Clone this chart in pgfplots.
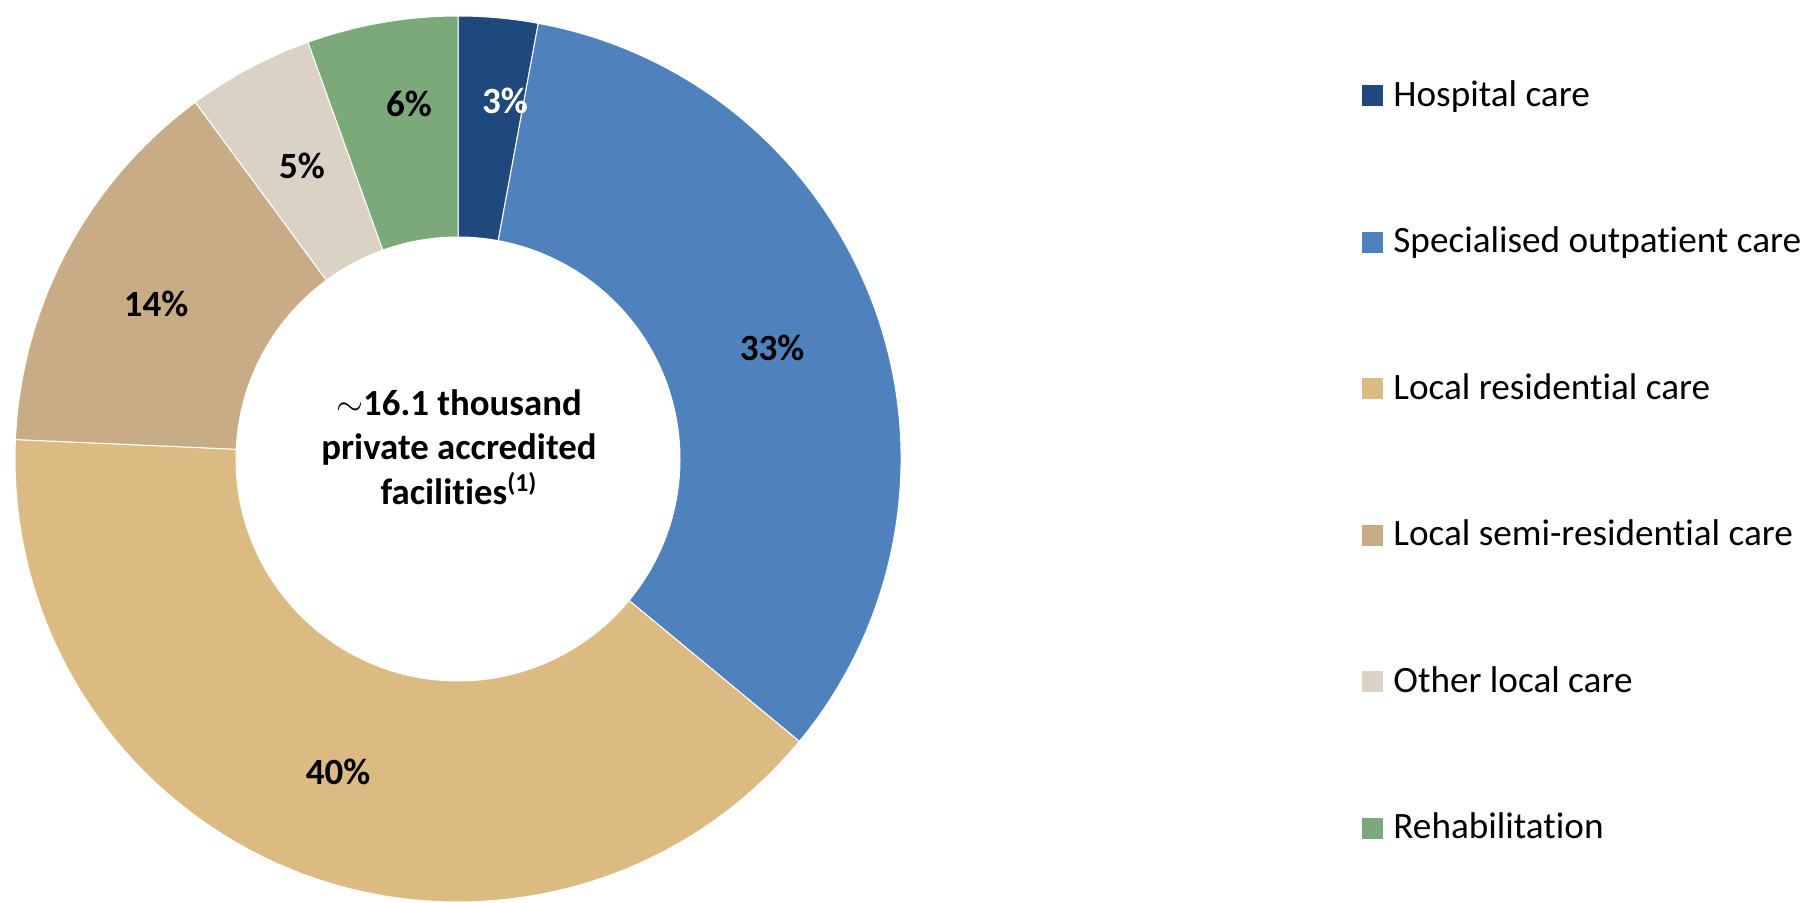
\documentclass[border=0pt]{standalone}
\usepackage{pgfplots}
\pgfplotsset{compat=1.18}
\usepackage{pgfplotstable}
\usepackage{fontspec}
\setmainfont{Carlito}[Ligatures=NoCommon]

\definecolor{c0}{RGB}{31,73,125}
\definecolor{c1}{RGB}{79,129,189}
\definecolor{c2}{RGB}{220,187,130}
\definecolor{c3}{RGB}{200,172,133}
\definecolor{c4}{RGB}{218,210,197}
\definecolor{c5}{RGB}{123,169,121}
\colorlet{t0}{white}
\colorlet{t1}{black}
\colorlet{t2}{black}
\colorlet{t3}{black}
\colorlet{t4}{black}
\colorlet{t5}{black}

% share (%), shown label, label position (px, y up), legend name
\pgfplotstableread[col sep=semicolon]{
value;label;lx;ly;name
2.9;3;505;801;Hospital care
33.1;33;772;554;Specialised outpatient care
39.7;40;338;130;Local residential care
14.2;14;156;598;Local semi-residential care
4.6;5;302;736;Other local care
5.5;6;409;798;Rehabilitation
}\datatable

\gdef\cum{0}
\foreach \i in {0,...,5}{%
  \pgfplotstablegetelem{\i}{value}\of\datatable
  \pgfmathsetmacro\sa{90-3.6*\cum}%
  \pgfmathsetmacro\newcum{\cum+\pgfplotsretval}%
  \pgfmathsetmacro\ea{90-3.6*\newcum}%
  \expandafter\xdef\csname sa\i\endcsname{\sa}%
  \expandafter\xdef\csname ea\i\endcsname{\ea}%
  \xdef\cum{\newcum}%
  \pgfplotstablegetelem{\i}{label}\of\datatable
  \expandafter\xdef\csname lb\i\endcsname{\pgfplotsretval}%
  \pgfplotstablegetelem{\i}{lx}\of\datatable
  \expandafter\xdef\csname lx\i\endcsname{\pgfplotsretval}%
  \pgfplotstablegetelem{\i}{ly}\of\datatable
  \expandafter\xdef\csname ly\i\endcsname{\pgfplotsretval}%
  \pgfplotstablegetelem{\i}{name}\of\datatable
  \expandafter\xdef\csname nm\i\endcsname{\pgfplotsretval}%
}
\def\SA#1{\csname sa#1\endcsname}
\def\EA#1{\csname ea#1\endcsname}

\begin{document}
\begin{tikzpicture}
\begin{axis}[hide axis, x=0.5pt, y=0.5pt, xmin=0, xmax=1807, ymin=0, ymax=902,
  scale only axis, clip=false]
\coordinate (ll) at (axis cs:0,0);
\coordinate (ur) at (axis cs:1807,902);
\pgfplotsinvokeforeach{0,...,5}{
  \fill[c#1, draw=white, line width=0.5pt]
    (axis cs:{458+443*cos(\SA{#1})},{443+443*sin(\SA{#1})})
    arc[start angle=\SA{#1}, end angle=\EA{#1}, radius=221.5pt]
    -- (axis cs:{458+222*cos(\EA{#1})},{443+222*sin(\EA{#1})})
    arc[start angle=\EA{#1}, end angle=\SA{#1}, radius=111pt]
    -- cycle;
}
\pgfplotsinvokeforeach{0,...,5}{
  \node[text=t#1, font=\fontsize{18.5}{21}\selectfont\bfseries, inner sep=0pt]
    at (axis cs:\csname lx#1\endcsname,\csname ly#1\endcsname) {\csname lb#1\endcsname\%};
  \fill[c#1] (axis cs:1362,{806.5-146.5*#1-10.5}) rectangle (axis cs:1383,{806.5-146.5*#1+10.5});
  \node[anchor=base west, inner sep=0pt, font=\fontsize{18.6}{22}\selectfont]
    at (axis cs:1393,{806.5-146.5*#1-10.5}) {\csname nm#1\endcsname};
}
\node[align=center, font=\fontsize{18.4}{22.3}\selectfont\bfseries, inner sep=0pt]
  at (axis cs:459,455) {{\normalfont$\sim$}16.1 thousand\\private accredited\\facilities\textsuperscript{(1)}};
\end{axis}
\pgfresetboundingbox
\path[use as bounding box] (ll) rectangle (ur);
\end{tikzpicture}
\end{document}
